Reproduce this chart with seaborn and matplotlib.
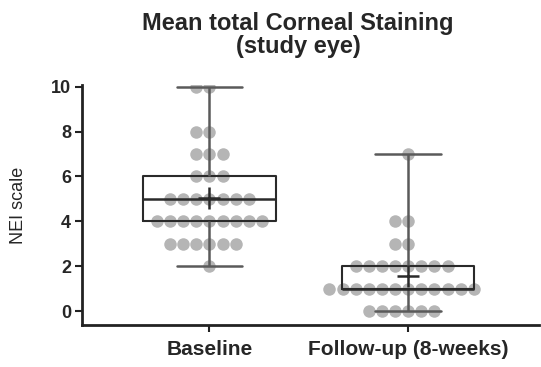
import matplotlib
matplotlib.use('Agg')

import numpy as np
import pandas as pd
import matplotlib.pyplot as plt
import seaborn as sns

# NEI scale scores: (value, number of eyes)
groups = ["Baseline", "Follow-up (8-weeks)"]
baseline_values = [10, 8, 7, 6, 5, 4, 3, 2]
baseline_counts = [2, 2, 3, 3, 7, 9, 6, 1]
followup_values = [7, 4, 3, 2, 1, 0]
followup_counts = [1, 2, 2, 8, 12, 6]
y_ticks = [0, 2, 4, 6, 8, 10]

df = pd.DataFrame({
    "group": [groups[0]] * sum(baseline_counts) + [groups[1]] * sum(followup_counts),
    "score": list(np.repeat(baseline_values, baseline_counts)) + list(np.repeat(followup_values, followup_counts)),
})

sns.set_style("white")
plt.rcParams['font.family'] = ['Liberation Sans', 'DejaVu Sans']

fig = plt.figure(figsize=(5.41, 3.67), dpi=100)
ax = fig.add_axes([0.152, 0.114, 0.845, 0.655])

# dots first, box on top
sns.swarmplot(data=df, x="group", y="score", order=groups, color="#b5b5b5",
              size=9.0, linewidth=0, ax=ax, zorder=1, warn_thresh=1)

line_dark = "#2a2a2a"
line_grey = "#5a5a5a"
sns.boxplot(data=df, x="group", y="score", order=groups, width=0.667,
            whis=(0, 100), fill=False, showfliers=False, showmeans=True,
            linecolor=line_dark, linewidth=1.5,
            boxprops=dict(color=line_dark, linewidth=1.5),
            medianprops=dict(color=line_dark, linewidth=1.8),
            whiskerprops=dict(color=line_grey, linewidth=1.8),
            capprops=dict(color=line_grey, linewidth=1.8),
            meanprops=dict(marker="+", markersize=16, markeredgecolor=line_dark,
                           markeredgewidth=1.8),
            capwidths=0.33, ax=ax, zorder=3)

ax.set_ylim(-0.62, 10.08)
ax.set_xlim(-0.64, 1.66)
ax.set_yticks(y_ticks)
ax.set_xlabel("")
ax.set_ylabel("NEI scale", fontsize=13)
ax.yaxis.set_label_coords(-0.12, 0.5)

for side in ["top", "right"]:
    ax.spines[side].set_visible(False)
for side in ["left", "bottom"]:
    ax.spines[side].set_linewidth(2)
    ax.spines[side].set_color("#222222")

ax.tick_params(axis="both", direction="out", length=5, width=1.5, color="#222222",
               pad=3, left=True, bottom=True)
ax.tick_params(axis="y", labelsize=13)
ax.tick_params(axis="x", labelsize=15, pad=6)
for lab in ax.get_xticklabels() + ax.get_yticklabels():
    lab.set_fontweight("bold")

fig.text(0.551, 0.967, "Mean total Corneal Staining\n(study eye)", ha="center",
         va="top", fontsize=17, fontweight="bold", linespacing=0.98)

fig.savefig("out.png", dpi=100)
